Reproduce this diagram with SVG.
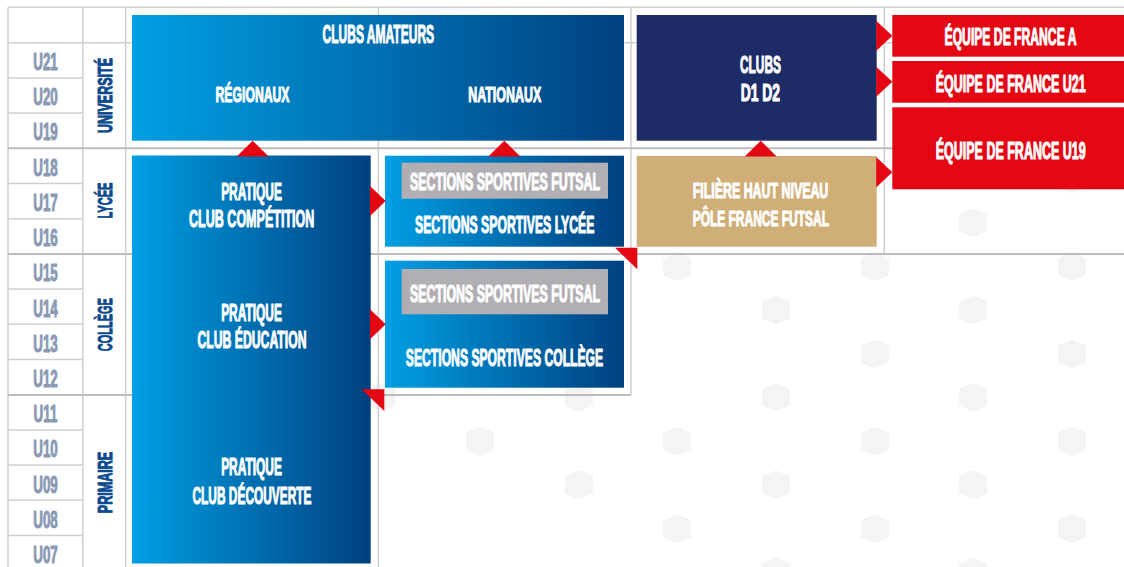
<svg xmlns="http://www.w3.org/2000/svg" xmlns:xlink="http://www.w3.org/1999/xlink" width="1124" height="567" viewBox="0 0 1124 567">
<style>
.ln{stroke:#cfcfcf;stroke-width:1.5;fill:none}
.lnd{stroke:#bcbcbc;stroke-width:2;fill:none}
.t{font-family:"Liberation Sans",Arial,sans-serif;font-weight:bold;fill:#ffffff;stroke:#ffffff;stroke-width:1.1;stroke-linejoin:round;text-anchor:middle}
.age{font-family:"Liberation Sans",Arial,sans-serif;font-weight:bold;fill:#8a99b4;stroke:#8a99b4;stroke-width:1;stroke-linejoin:round;text-anchor:middle;font-size:23px}
.cat{font-family:"Liberation Sans",Arial,sans-serif;font-weight:bold;fill:#0d4a8e;stroke:#0d4a8e;stroke-width:1;stroke-linejoin:round;text-anchor:middle;font-size:21px}
.red{fill:#e30613}
.hx{fill:#f4f4f4}
</style>
<defs>
<linearGradient id="bg" x1="0" y1="0" x2="1" y2="0">
<stop offset="0" stop-color="#009fe3"/>
<stop offset="1" stop-color="#00407f"/>
</linearGradient>
<path id="hex" d="M0,-14.3 L14,-8.7 L14,8.7 L0,14.3 L-14,8.7 L-14,-8.7 Z"/>
</defs>
<rect width="1124" height="567" fill="#ffffff"/>
<g id="hexes" class="hx">
<use xlink:href="#hex" x="973.3" y="222.7"/>
<use xlink:href="#hex" x="776" y="310"/>
<use xlink:href="#hex" x="973.3" y="310"/>
<use xlink:href="#hex" x="381.3" y="397.3"/>
<use xlink:href="#hex" x="578.7" y="397.3"/>
<use xlink:href="#hex" x="776" y="397.3"/>
<use xlink:href="#hex" x="973.3" y="397.3"/>
<use xlink:href="#hex" x="578.7" y="484.7"/>
<use xlink:href="#hex" x="776" y="484.7"/>
<use xlink:href="#hex" x="973.3" y="484.7"/>
<use xlink:href="#hex" x="776" y="572"/>
<use xlink:href="#hex" x="973.3" y="572"/>
<use xlink:href="#hex" x="1072" y="179.3"/>
<use xlink:href="#hex" x="677.3" y="266.7"/>
<use xlink:href="#hex" x="874.7" y="266.7"/>
<use xlink:href="#hex" x="1072" y="266.7"/>
<use xlink:href="#hex" x="874.7" y="354"/>
<use xlink:href="#hex" x="1072" y="354"/>
<use xlink:href="#hex" x="480" y="441.3"/>
<use xlink:href="#hex" x="677.3" y="441.3"/>
<use xlink:href="#hex" x="874.7" y="441.3"/>
<use xlink:href="#hex" x="1072" y="441.3"/>
<use xlink:href="#hex" x="677.3" y="528.7"/>
<use xlink:href="#hex" x="874.7" y="528.7"/>
<use xlink:href="#hex" x="1072" y="528.7"/>
</g>
<g id="grid">
<path class="ln" d="M8,7.3H1124 M8,42.7H1124 M8,77.9H82.7 M8,113.1H82.7 M8,183.5H82.7 M8,218.7H82.7 M8,289.1H82.7 M8,324.3H82.7 M8,359.5H82.7 M8,429.9H82.7 M8,465.1H82.7 M8,500.3H82.7 M8,535.5H82.7"/>
<path class="ln" d="M8,7.3V567 M82.7,7.3V567 M125.7,7.3V567 M378.3,7.3V567 M631,7.3V395 M884.3,7.3V254"/>
<path class="lnd" d="M8,148.3H1124 M8,253.9H1124 M8,395H631"/>
</g>
<g id="ages">
<text class="age" transform="translate(45.5,70) scale(0.581,1)">U21</text>
<text class="age" transform="translate(45.5,105.2) scale(0.581,1)">U20</text>
<text class="age" transform="translate(45.5,140.4) scale(0.581,1)">U19</text>
<text class="age" transform="translate(45.5,175.8) scale(0.581,1)">U18</text>
<text class="age" transform="translate(45.5,211) scale(0.581,1)">U17</text>
<text class="age" transform="translate(45.5,246.2) scale(0.581,1)">U16</text>
<text class="age" transform="translate(45.5,281.4) scale(0.581,1)">U15</text>
<text class="age" transform="translate(45.5,316.6) scale(0.581,1)">U14</text>
<text class="age" transform="translate(45.5,351.8) scale(0.581,1)">U13</text>
<text class="age" transform="translate(45.5,387) scale(0.581,1)">U12</text>
<text class="age" transform="translate(45.5,422.2) scale(0.581,1)">U11</text>
<text class="age" transform="translate(45.5,457.4) scale(0.581,1)">U10</text>
<text class="age" transform="translate(45.5,492.6) scale(0.581,1)">U09</text>
<text class="age" transform="translate(45.5,527.8) scale(0.581,1)">U08</text>
<text class="age" transform="translate(45.5,563) scale(0.581,1)">U07</text>
</g>
<g id="categories">
<text class="cat" transform="translate(112,95.5) rotate(-90) scale(0.595,1)">UNIVERSITÉ</text>
<text class="cat" transform="translate(112,200.5) rotate(-90) scale(0.528,1)">LYCÉE</text>
<text class="cat" transform="translate(112,324.7) rotate(-90) scale(0.522,1)">COLLÈGE</text>
<text class="cat" transform="translate(112,482.5) rotate(-90) scale(0.6,1)">PRIMAIRE</text>
</g>
<g id="clubs-amateurs">
<rect x="132" y="15" width="492" height="125.7" fill="url(#bg)"/>
<text class="t" font-size="26.4" transform="translate(378.3,43.3) scale(0.456,1)">CLUBS AMATEURS</text>
<text class="t" font-size="22.2" transform="translate(252.5,102) scale(0.55,1)">RÉGIONAUX</text>
<text class="t" font-size="22.2" transform="translate(504.7,102) scale(0.56,1)">NATIONAUX</text>
</g>
<g id="clubs-d1d2">
<rect x="636.7" y="15" width="240" height="125.7" fill="#1d2b67"/>
<text class="t" font-size="24" transform="translate(760.5,73.3) scale(0.496,1)">CLUBS</text>
<text class="t" font-size="24" transform="translate(760.4,100.7) scale(0.578,1)">D1 D2</text>
</g>
<g id="equipe-a">
<rect x="892.3" y="15" width="232" height="41.7" class="red"/>
<text class="t" font-size="23.2" transform="translate(1010.5,45) scale(0.524,1)">ÉQUIPE DE FRANCE A</text>
</g>
<g id="equipe-u21">
<rect x="892.3" y="61" width="232" height="41.7" class="red"/>
<text class="t" font-size="23.2" transform="translate(1010.7,91.7) scale(0.539,1)">ÉQUIPE DE FRANCE U21</text>
</g>
<g id="equipe-u19">
<rect x="892.3" y="107.3" width="232" height="82" class="red"/>
<text class="t" font-size="23.2" transform="translate(1010.7,159) scale(0.539,1)">ÉQUIPE DE FRANCE U19</text>
</g>
<g id="pratique">
<rect x="132" y="155.5" width="238.7" height="408" fill="url(#bg)"/>
<text class="t" font-size="24.3" transform="translate(251.5,200) scale(0.491,1)">PRATIQUE</text>
<text class="t" font-size="24.3" transform="translate(251.7,227.3) scale(0.516,1)">CLUB COMPÉTITION</text>
<text class="t" font-size="24.3" transform="translate(251.5,320.5) scale(0.491,1)">PRATIQUE</text>
<text class="t" font-size="24.3" transform="translate(252,347.8) scale(0.503,1)">CLUB ÉDUCATION</text>
<text class="t" font-size="24.3" transform="translate(251.5,475) scale(0.491,1)">PRATIQUE</text>
<text class="t" font-size="24.3" transform="translate(252,503.5) scale(0.49,1)">CLUB DÉCOUVERTE</text>
</g>
<g id="sections-lycee">
<rect x="385" y="155.7" width="239" height="91" fill="url(#bg)"/>
<rect x="401.7" y="162.7" width="206.3" height="36" fill="#b1afb4"/>
<text class="t" font-size="24.5" transform="translate(505,190) scale(0.506,1)">SECTIONS SPORTIVES FUTSAL</text>
<text class="t" font-size="23.5" transform="translate(504.7,233.3) scale(0.522,1)">SECTIONS SPORTIVES LYCÉE</text>
</g>
<g id="sections-college">
<rect x="385" y="260.7" width="239" height="127" fill="url(#bg)"/>
<rect x="401.7" y="269" width="206.3" height="45.3" fill="#b1afb4"/>
<text class="t" font-size="24.5" transform="translate(505,302.3) scale(0.506,1)">SECTIONS SPORTIVES FUTSAL</text>
<text class="t" font-size="24.5" transform="translate(504.5,365.7) scale(0.497,1)">SECTIONS SPORTIVES COLLÈGE</text>
</g>
<g id="haut-niveau">
<rect x="636.7" y="156" width="240" height="90.7" fill="#cfae78"/>
<text class="t" font-size="22.5" transform="translate(760.5,198.3) scale(0.551,1)">FILIÈRE HAUT NIVEAU</text>
<text class="t" font-size="22.5" transform="translate(760.8,225.7) scale(0.532,1)">PÔLE FRANCE FUTSAL</text>
</g>
<g id="connectors" class="red">
<polygon points="236.7,156.5 252.7,140.7 268.7,156.5"/>
<polygon points="488.3,156.5 504.3,140.7 520.3,156.5"/>
<polygon points="744.7,156.5 760.7,140.7 776.7,156.5"/>
<polygon points="370,186 385.7,201 370,216"/>
<polygon points="370,309.3 385.7,324.3 370,339.3"/>
<polygon points="876.2,20.7 892.3,35.8 876.2,50.9"/>
<polygon points="876.2,66.8 892.3,81.8 876.2,96.8"/>
<polygon points="876.2,157 892.3,172.3 876.2,187.6"/>
<polygon points="615,247.7 637.3,247.7 637.3,269.3"/>
<polygon points="361.7,389.3 384.3,389.3 384.3,411"/>
</g>
</svg>
